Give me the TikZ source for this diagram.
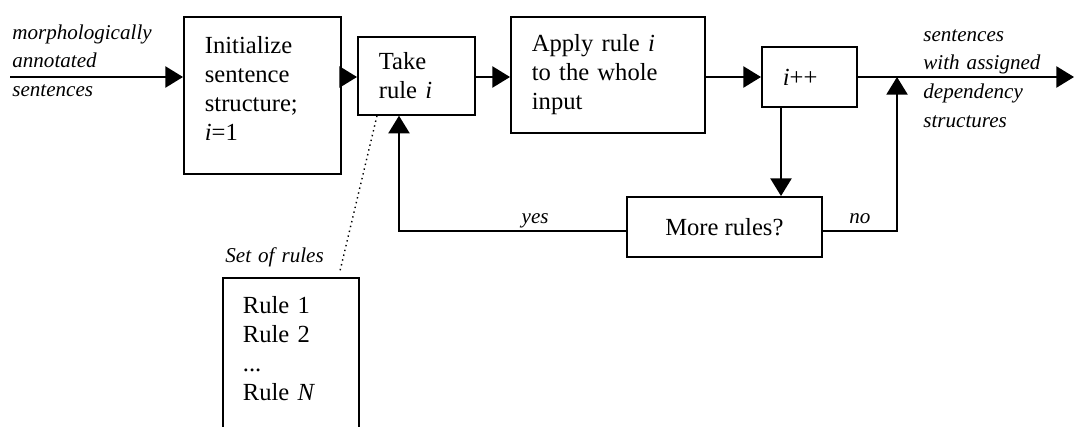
\documentclass[tikz,border=0pt]{standalone}
\usepackage{fontspec}
\setmainfont{Liberation Serif}
\usetikzlibrary{arrows.meta, positioning}
\tikzset{
  procbox/.style={rectangle, draw, line width=1pt, anchor=north west,
                  align=left, inner xsep=0.42cm,
                  font=\fontsize{14}{16.5}\selectfont},
  flowlabel/.style={align=left, inner sep=0pt, text width=3cm,
                    anchor=base west, font=\fontsize{12}{16.5}\selectfont\itshape},
  edgelabel/.style={anchor=base, yshift=4pt, inner sep=0pt,
                    font=\fontsize{12}{14}\selectfont\itshape},
  arrow/.style={-{Triangle[length=10pt,width=12pt]}, line width=1pt},
}

\begin{document}
\begin{tikzpicture}[x=0.02cm, y=-0.02cm]
  \clip (0,0) rectangle (1074,426);

  % Processing steps
  \node[procbox, text width=2.30cm, minimum height=3.14cm, text depth=57pt]
    (init) at (183,16) {Initialize\\sentence\\structure;\\\textit{i}=1};
  \node[procbox, text width=1.50cm, minimum height=1.56cm] (take) at (357,36)
    {Take\\rule \textit{i}};
  \node[procbox, text width=3.04cm, minimum height=2.32cm] (apply) at (510,16)
    {Apply rule \textit{i}\\to the whole\\input};
  \node[procbox, text width=1.06cm, minimum height=1.2cm] (inc) at (761,46)
    {\textit{i}++};
  \node[procbox, align=center, minimum width=3.9cm, minimum height=1.2cm]
    (more) at (626,196) {More rules?};

  % Rule set
  \node[procbox, text width=1.92cm, inner xsep=0.4cm, inner ysep=0.38cm,
        text depth=3.5cm] (rules) at (222,277)
    {Rule 1\\Rule 2\\...\\Rule \textit{N}};

  % Labels
  \node[flowlabel] (inlabel) at (12,39) {morphologically\\annotated\\sentences};
  \node[flowlabel] (outlabel) at (923,41)
    {sentences\\with assigned\\dependency\\structures};
  \node[flowlabel] (setlabel) at (225,262) {Set of rules};

  % Main line
  \coordinate (src) at (10,77);
  \coordinate (dst) at (1074,77);
  \coordinate (merge) at (897,77);
  \draw[arrow] (src) -- (init.west |- src);
  \draw[arrow] (init.east |- src) -- (take.west |- src);
  \draw[arrow] (take.east |- src) -- (apply.west |- src);
  \draw[arrow] (apply.east |- src) -- (inc.west |- src);
  \draw[arrow] (inc.east |- src) -- (dst);

  % Loop
  \coordinate (down) at ([xshift=0.4cm]inc.south west);
  \draw[arrow] (down) -- (down |- more.north);
  \draw[arrow] ([yshift=-0.08cm]more.west) -| node[edgelabel, pos=0.2] {yes}
        ([xshift=0.84cm]take.south west);
  \draw[arrow] ([yshift=-0.08cm]more.east) -| node[edgelabel, pos=0.25] {no}
        (merge);

  \draw[dotted, line width=0.8pt] ([xshift=0.4cm]take.south west) --
        ([xshift=-0.4cm, yshift=0.1cm]rules.north east);
\end{tikzpicture}
\end{document}
